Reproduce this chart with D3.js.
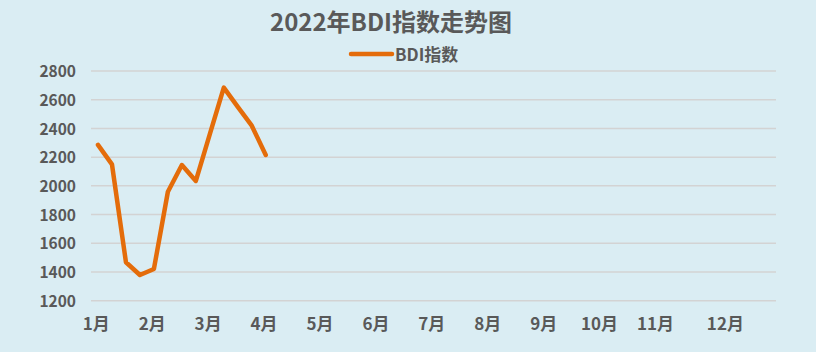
<!DOCTYPE html>
<html>
<head>
<meta charset="utf-8">
<script src="https://cdn.jsdelivr.net/npm/d3@7"></script>
<style>
  body { margin: 0; background: #daedf3; }
  text { font-family: "Noto Sans CJK SC", "Noto Sans", sans-serif; }
</style>
</head>
<body>
<div id="chart-area"></div>
<script>
// month labels and how many weekly slots each month takes on the axis
var monthLabels = ["1月", "2月", "3月", "4月", "5月", "6月", "7月", "8月", "9月", "10月", "11月", "12月"];
var weeksPerMonth = [4, 4, 4, 4, 4, 4, 4, 4, 4, 4, 5, 4];
// weekly BDI values (Jan - early Apr)
var bdiValues = [2285, 2150, 1468, 1379, 1421, 1959, 2145, 2034, 2360, 2684, 2550, 2419, 2215];
var yTicks = [1200, 1400, 1600, 1800, 2000, 2200, 2400, 2600, 2800];

var width = 816;
var height = 352;
var margin = { top: 71, right: 40, bottom: 51.3, left: 91 };

// build the weekly category list, remembering where each month starts
var slots = [];
var monthStart = {};
weeksPerMonth.forEach((n, m) => {
  monthStart[slots.length] = monthLabels[m];
  for (var i = 0; i < n; i++) slots.push(slots.length);
});

var data = bdiValues.map((v, i) => ({ slot: i, value: v }));

var svg = d3.select("#chart-area")
  .append("svg")
  .attr("width", width)
  .attr("height", height)
  .style("background", "#daedf3");

var x = d3.scaleBand()
  .domain(slots)
  .range([margin.left, width - margin.right]);

var y = d3.scaleLinear()
  .domain([1200, 2800])
  .range([height - margin.bottom, margin.top]);

// gridlines
svg.append("g")
  .selectAll("line")
  .data(yTicks)
  .enter().append("line")
  .attr("x1", margin.left)
  .attr("x2", width - margin.right)
  .attr("y1", d => y(d))
  .attr("y2", d => y(d))
  .attr("stroke", "#d3d3d3")
  .attr("stroke-width", 1.5);

// y axis labels
var yAxisG = svg.append("g")
  .attr("transform", "translate(" + (margin.left - 15) + ",0)")
  .call(d3.axisLeft(y).tickValues(yTicks).tickFormat(d3.format("d")).tickSize(0).tickPadding(0));
yAxisG.select(".domain").remove();
yAxisG.selectAll("text")
  .attr("dy", "0.36em")
  .style("font-family", "'Noto Sans CJK SC', sans-serif")
  .style("font-size", "15.5px")
  .style("font-weight", "bold")
  .style("fill", "#595959");

// x axis labels, one per month
var xAxisG = svg.append("g")
  .attr("transform", "translate(0," + (height - margin.bottom) + ")")
  .call(d3.axisBottom(x)
    .tickValues(Object.keys(monthStart).map(Number))
    .tickFormat(d => monthStart[d])
    .tickSize(0)
    .tickPadding(17));
xAxisG.select(".domain").remove();
xAxisG.selectAll("text")
  .attr("dx", "-0.1em")
  .style("font-family", "'Noto Sans CJK SC', sans-serif")
  .style("font-size", "17px")
  .style("font-weight", "bold")
  .style("fill", "#595959");

// the BDI line
var line = d3.line()
  .x(d => x(d.slot) + x.bandwidth() / 2)
  .y(d => y(d.value));

svg.append("path")
  .datum(data)
  .attr("d", line)
  .attr("fill", "none")
  .attr("stroke", "#e46c0a")
  .attr("stroke-width", 4.5)
  .attr("stroke-linejoin", "round")
  .attr("stroke-linecap", "round");

// title
svg.append("text")
  .attr("x", 391)
  .attr("y", 31)
  .attr("text-anchor", "middle")
  .style("font-size", "24px")
  .style("font-weight", "bold")
  .style("fill", "#595959")
  .text("2022年BDI指数走势图");

// legend
svg.append("line")
  .attr("x1", 351)
  .attr("x2", 392)
  .attr("y1", 54)
  .attr("y2", 54)
  .attr("stroke", "#e46c0a")
  .attr("stroke-width", 4.5)
  .attr("stroke-linecap", "round");

svg.append("text")
  .attr("x", 395)
  .attr("y", 60.5)
  .style("font-size", "17px")
  .style("font-weight", "bold")
  .style("fill", "#595959")
  .text("BDI指数");
</script>
</body>
</html>
